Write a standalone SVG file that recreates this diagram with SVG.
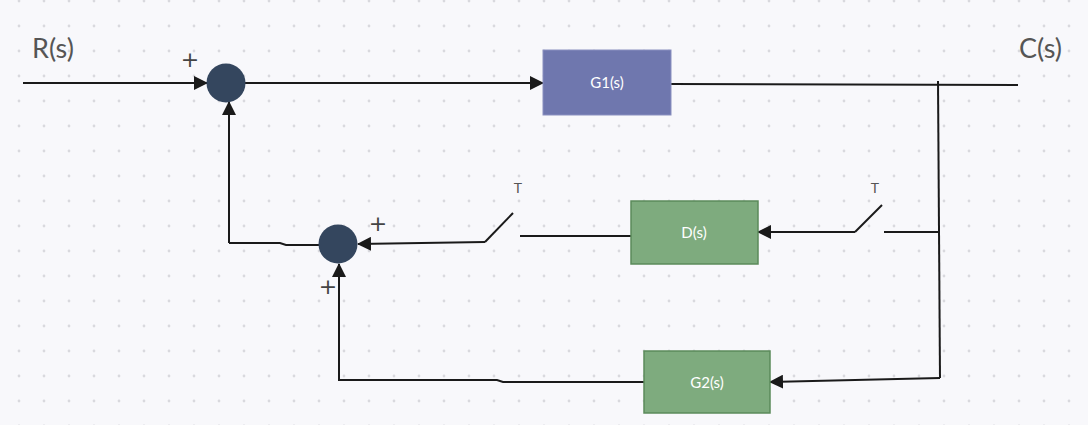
<svg xmlns="http://www.w3.org/2000/svg" width="1088" height="425" viewBox="0 0 1088 425">
<defs>
<pattern id="dots" x="19" y="1" width="25" height="25" patternUnits="userSpaceOnUse">
<circle cx="0" cy="0" r="1.4" fill="#d9d9de"/><circle cx="25" cy="0" r="1.4" fill="#d9d9de"/><circle cx="0" cy="25" r="1.4" fill="#d9d9de"/><circle cx="25" cy="25" r="1.4" fill="#d9d9de"/>
</pattern>
<marker id="arr" viewBox="0 0 14 14" refX="13" refY="7" markerWidth="14" markerHeight="14" markerUnits="userSpaceOnUse" orient="auto">
<path d="M0,0 L14,7 L0,14 Z" fill="#1a1a1a"/>
</marker>
<style>
.ln{fill:none;stroke:#1a1a1a;stroke-width:2}
.sum{fill:#34465e}
.g1{fill:#6f77ae;stroke:#8a90c0;stroke-width:1}
.gr{fill:#7eab7e;stroke:#5b8a5b;stroke-width:1.5}
.bt{font-family:Lato,"Open Sans","Liberation Sans",sans-serif;font-size:15px;fill:#ffffff;text-anchor:middle}
.sig{font-family:Lato,"Open Sans","Liberation Sans",sans-serif;font-size:27px;fill:#555555}
.pl{font-family:"DejaVu Sans","Liberation Sans",sans-serif;font-size:22px;fill:#444444;text-anchor:middle}
.t{font-family:Lato,"Liberation Sans",sans-serif;font-size:14px;fill:#555555;text-anchor:middle}
</style>
</defs>
<rect width="1088" height="425" fill="#f8f8fb"/>
<rect width="1088" height="425" fill="url(#dots)"/>
<g id="connectors">
<path class="ln" d="M23,83 L207,83" marker-end="url(#arr)"/>
<path class="ln" d="M245,83 L543,83" marker-end="url(#arr)"/>
<path class="ln" d="M671,84 L1018,85"/>
<path class="ln" d="M938,81 L940,378"/>
<path class="ln" d="M229,243 L229,102" marker-end="url(#arr)"/>
<path class="ln" d="M229,243 L280,243 L286,245 L319,245"/>
<path class="ln" d="M485,242 L358,244" marker-end="url(#arr)"/>
<path class="ln" d="M485,242 L513,213"/>
<path class="ln" d="M520,236 L632,236"/>
<path class="ln" d="M855,232 L758,232" marker-end="url(#arr)"/>
<path class="ln" d="M855,232 L882,205"/>
<path class="ln" d="M884,232 L940,232"/>
<path class="ln" d="M940,378 L770,382" marker-end="url(#arr)"/>
<path class="ln" d="M644,382 L503,382 L497,380 L339,380 L339,264" marker-end="url(#arr)"/>
</g>
<g id="sum1"><circle class="sum" cx="226" cy="83" r="19.5"/></g>
<g id="sum2"><circle class="sum" cx="338" cy="244" r="19.5"/></g>
<g id="G1"><rect class="g1" x="543" y="50" width="128" height="65"/><text class="bt" x="607" y="88">G1(s)</text></g>
<g id="D"><rect class="gr" x="631" y="201" width="127" height="63"/><text class="bt" x="694" y="238">D(s)</text></g>
<g id="G2"><rect class="gr" x="644" y="351" width="126" height="62"/><text class="bt" x="707" y="388">G2(s)</text></g>
<g id="labels">
<text class="sig" x="32" y="58">R(s)</text>
<text class="sig" x="1019" y="58">C(s)</text>
<text class="pl" x="190" y="67">+</text>
<text class="pl" x="378" y="231">+</text>
<text class="pl" x="328" y="294">+</text>
<text class="t" x="518" y="193">T</text>
<text class="t" x="875" y="193">T</text>
</g>
</svg>
